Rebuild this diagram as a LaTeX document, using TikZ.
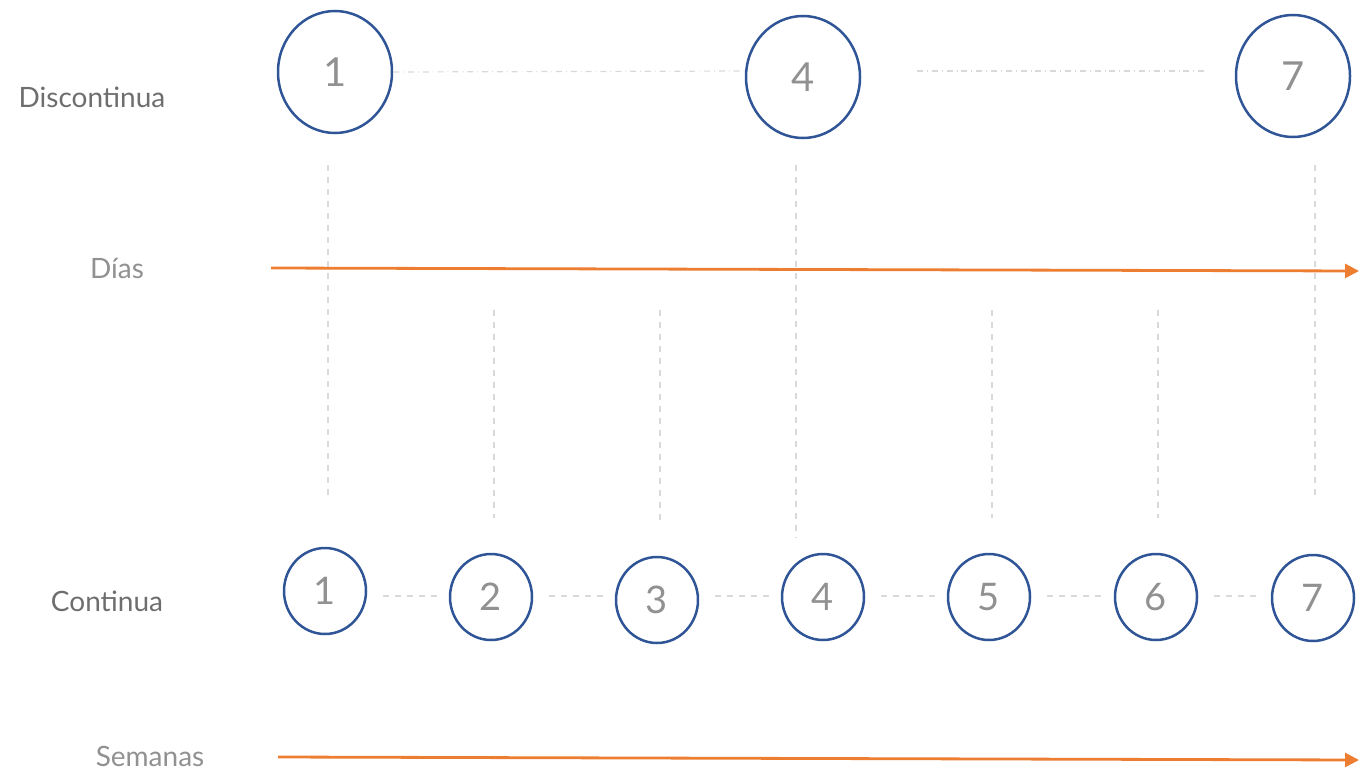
\documentclass[tikz,border=0pt]{standalone}
\usepackage{fontspec}
\setmainfont{Lato}
\usetikzlibrary{arrows.meta, shapes.geometric}
\definecolor{dayblue}{RGB}{47,85,151}
\definecolor{axisorange}{RGB}{237,125,49}
\definecolor{guidegray}{RGB}{217,217,217}
\definecolor{labelgray}{RGB}{110,110,110}
\definecolor{numgray}{RGB}{145,145,145}

\begin{document}
\begin{tikzpicture}[x=0.5pt, y=-0.5pt, >={Triangle[length=7pt,width=7pt]},
    bigday/.style={ellipse, draw=dayblue, line width=1.25pt, minimum width=57pt, minimum height=61pt, inner sep=0pt, text=numgray, font=\fontsize{20}{20}\selectfont},
    smallday/.style={ellipse, draw=dayblue, line width=1.25pt, minimum width=41pt, minimum height=43pt, inner sep=0pt, text=numgray, font=\fontsize{19}{19}\selectfont},
    guide/.style={guidegray, dashed, line width=0.7pt},
    link/.style={guidegray, dash dot, line width=0.6pt},
    axis/.style={->, axisorange, line width=1.4pt},
    rowlabel/.style={text=labelgray, font=\fontsize{14}{14}\selectfont},
    unitlabel/.style={text=numgray, font=\fontsize{14}{14}\selectfont}]
    \useasboundingbox (0,0) rectangle (1360,771);

    % Vertical guides
    \foreach \x/\ya/\yb in {328/165/497, 796/165/538, 1315/165/497, 494/310/518, 660/310/520, 992/310/518, 1158/310/518}
        \draw[guide] (\x,\ya) -- (\x,\yb);

    % Row labels
    \node[rowlabel] (disc) at (92,97) {Discontinua};
    \node[unitlabel] (dias) at (117,268) {Días};
    \node[rowlabel] (cont) at (107,601) {Continua};
    \node[unitlabel] (sem) at (150,756) {Semanas};

    % Discontinuous days
    \node[bigday] (d1) at (335,72) {1};
    \node[bigday] (d4) at (803,77) {4};
    \node[bigday] (d7) at (1293,76) {7};
    \draw[link] (d1.east) -- (746,71);
    \draw[link] (917,71) -- (1207,71);

    % Continuous days
    \node[smallday] (c1) at (325,591) {1};
    \node[smallday] (c2) at (491,597) {2};
    \node[smallday] (c3) at (657,600) {3};
    \node[smallday] (c4) at (823,597) {4};
    \node[smallday] (c5) at (989,597) {5};
    \node[smallday] (c6) at (1156,597) {6};
    \node[smallday] (c7) at (1313,598) {7};
    \foreach \a/\b in {c1/c2, c2/c3, c3/c4, c4/c5, c5/c6, c6/c7}
        \draw[guide, shorten <=8pt, shorten >=6pt] (\a.east |- 0,596) -- (\b.west |- 0,596);

    % Time axes
    \coordinate (dstart) at (271,268);
    \coordinate (dend) at (1359,271);
    \coordinate (wstart) at (278,757);
    \coordinate (wend) at (1359,760);
    \draw[axis] (dstart) -- (dend);
    \draw[axis] (wstart) -- (wend);
\end{tikzpicture}
\end{document}
